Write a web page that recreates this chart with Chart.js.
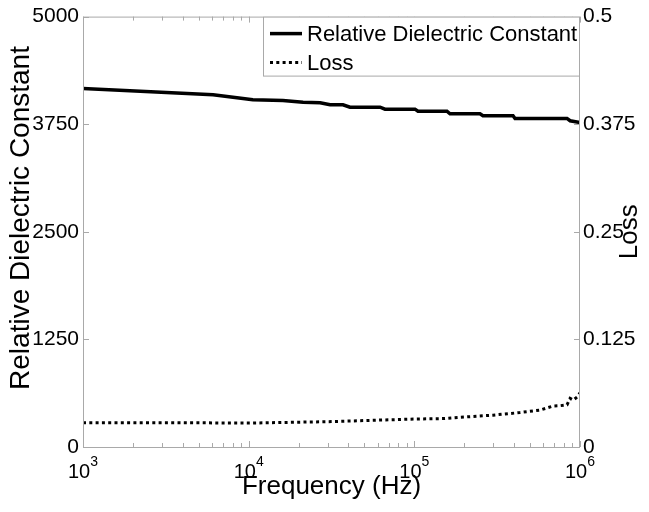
<!DOCTYPE html>
<html>
<head>
<meta charset="utf-8">
<script src="https://cdn.jsdelivr.net/npm/chart.js@4.4.1/dist/chart.umd.min.js"></script>
<style>
  html, body { margin: 0; padding: 0; background: #fff; }
</style>
</head>
<body>
<canvas id="chart" width="649" height="512"></canvas>
<script>
// relative dielectric constant (steps included)
const DIEL_FREQ = [1000, 6100, 10600, 16100, 21300, 27000, 31000, 37100, 40900, 62100, 66500,
  100900, 105200, 157400, 164100, 249000, 259500, 394300, 405400, 835000, 871000, 1000000];
const DIEL_VALUES = [4165, 4092, 4034, 4026, 4006, 3999, 3976, 3976, 3948, 3948, 3925,
  3925, 3901, 3901, 3871, 3871, 3848, 3848, 3817, 3817, 3790, 3770];

// loss (right axis)
const LOSS_FREQ = [1000, 3162, 10000, 31600, 100000, 150000, 189000, 298000, 434000, 574000,
  688000, 760000, 835000, 871000, 910000, 960000, 1000000];
const LOSS_VALUES = [0.0283, 0.0283, 0.0278, 0.0295, 0.0325, 0.0330, 0.0345, 0.0370, 0.0400, 0.0429,
  0.0476, 0.0480, 0.0490, 0.0565, 0.0545, 0.0580, 0.0630];

const X_EXPONENTS = [3, 4, 5, 6];
const LEFT_MAX = 5000, LEFT_STEP = 1250;
const RIGHT_MAX = 0.5, RIGHT_STEP = 0.125;

const FONT = '"Liberation Sans", Arial, Helvetica, sans-serif';
const GREY = '#a9a9a9';

function sideTitle(ctx, text, x, y, size) {
  ctx.save();
  ctx.translate(x, y);
  ctx.rotate(-Math.PI / 2);
  ctx.font = size + 'px ' + FONT;
  ctx.fillStyle = '#000';
  ctx.textAlign = 'center';
  ctx.textBaseline = 'middle';
  ctx.fillText(text, 0, 0);
  ctx.restore();
}

const frame = {
  id: 'frame',
  afterDraw(chart) {
    const ctx = chart.ctx;
    const { left, right, top, bottom } = chart.chartArea;
    const x = chart.scales.x;
    ctx.save();

    // axes box
    ctx.strokeStyle = GREY;
    ctx.lineWidth = 1;
    ctx.strokeRect(left + 0.5, top + 0.5, right - left - 1, bottom - top);

    // inward tick marks
    ctx.beginPath();
    const first = X_EXPONENTS[0], last = X_EXPONENTS[X_EXPONENTS.length - 1];
    for (let e = first; e <= last; e++) {
      for (let k = 1; k <= 9; k++) {
        if (e === last && k > 1) break;
        const px = Math.round(x.getPixelForValue(k * Math.pow(10, e))) + 0.5;
        const len = k === 1 ? 6 : 4;
        ctx.moveTo(px, bottom); ctx.lineTo(px, bottom - len);
        ctx.moveTo(px, top); ctx.lineTo(px, top + len);
      }
    }
    chart.scales.yDiel.ticks.forEach(t => {
      const py = Math.round(chart.scales.yDiel.getPixelForValue(t.value)) + 0.5;
      ctx.moveTo(left, py); ctx.lineTo(left + 6, py);
    });
    chart.scales.yLoss.ticks.forEach(t => {
      const py = Math.round(chart.scales.yLoss.getPixelForValue(t.value)) + 0.5;
      ctx.moveTo(right, py); ctx.lineTo(right - 6, py);
    });
    ctx.stroke();

    // x tick labels with superscript exponents
    ctx.fillStyle = '#000';
    ctx.textBaseline = 'alphabetic';
    X_EXPONENTS.forEach(e => {
      const px = x.getPixelForValue(Math.pow(10, e));
      ctx.font = '20px ' + FONT;
      const w1 = ctx.measureText('10').width;
      ctx.font = '14px ' + FONT;
      const w2 = ctx.measureText(String(e)).width;
      const x0 = px - (w1 + w2) / 2;
      ctx.font = '20px ' + FONT;
      ctx.textAlign = 'left';
      ctx.fillText('10', x0, 478);
      ctx.font = '14px ' + FONT;
      ctx.fillText(String(e), x0 + w1, 466);
    });

    // y axis titles, both reading bottom to top
    sideTitle(ctx, chart.scales.yDiel.options.title.text, 21, 218, 28);
    sideTitle(ctx, chart.scales.yLoss.options.title.text, 630, (top + bottom) / 2, 26);

    // legend box in the upper right corner
    const lx = 263, ly = top, lw = right - 263, lh = 59;
    ctx.fillStyle = '#fff';
    ctx.fillRect(lx, ly, lw, lh);
    ctx.strokeStyle = GREY;
    ctx.strokeRect(lx + 0.5, ly + 0.5, lw - 1, lh);
    ctx.font = '22px ' + FONT;
    ctx.textAlign = 'left';
    ctx.textBaseline = 'middle';
    chart.data.datasets.forEach((ds, i) => {
      const cy = ly + 17 + i * 29;
      ctx.strokeStyle = ds.borderColor;
      ctx.lineWidth = ds.borderWidth;
      ctx.setLineDash(ds.borderDash || []);
      ctx.beginPath();
      ctx.moveTo(270, cy); ctx.lineTo(302, cy);
      ctx.stroke();
      ctx.setLineDash([]);
      ctx.fillStyle = '#000';
      ctx.fillText(ds.label, 307, cy + 1);
    });
    ctx.restore();
  }
};

new Chart(document.getElementById('chart'), {
  type: 'line',
  data: {
    datasets: [
      {
        label: 'Relative Dielectric Constant',
        data: DIEL_FREQ.map((f, i) => ({ x: f, y: DIEL_VALUES[i] })),
        yAxisID: 'yDiel',
        borderColor: '#000',
        borderWidth: 3.5,
        pointRadius: 0,
        tension: 0,
      },
      {
        label: 'Loss',
        data: LOSS_FREQ.map((f, i) => ({ x: f, y: LOSS_VALUES[i] })),
        yAxisID: 'yLoss',
        borderColor: '#000',
        borderWidth: 3,
        borderDash: [3, 3.3],
        borderCapStyle: 'butt',
        pointRadius: 0,
        tension: 0,
      },
    ],
  },
  options: {
    responsive: false,
    animation: false,
    layout: { padding: { top: 16, left: 0, right: 0, bottom: 0 } },
    plugins: { legend: { display: false }, tooltip: { enabled: false } },
    scales: {
      x: {
        type: 'logarithmic',
        min: 1000,
        max: 1000000,
        grid: { display: false, drawTicks: false },
        border: { display: false },
        ticks: { display: false },
        title: {
          display: true,
          text: 'Frequency (Hz)',
          color: '#000',
          font: { family: FONT, size: 26, lineHeight: 1 },
          padding: { top: 0, bottom: 12 },
        },
        afterFit: s => { s.height = 65; },
      },
      yDiel: {
        position: 'left',
        min: 0,
        max: LEFT_MAX,
        grid: { display: false, drawTicks: false },
        border: { display: false },
        ticks: {
          stepSize: LEFT_STEP,
          padding: 4,
          color: '#000',
          font: { family: FONT, size: 21 },
          callback: v => String(v),
        },
        title: { display: false, text: 'Relative Dielectric Constant' },
        afterFit: s => { s.width = 83; },
      },
      yLoss: {
        position: 'right',
        min: 0,
        max: RIGHT_MAX,
        grid: { display: false, drawTicks: false },
        border: { display: false },
        ticks: {
          stepSize: RIGHT_STEP,
          padding: 3,
          color: '#000',
          font: { family: FONT, size: 21 },
          callback: v => String(v),
        },
        title: { display: false, text: 'Loss' },
        afterFit: s => { s.width = 69; },
      },
    },
  },
  plugins: [frame],
});
</script>
</body>
</html>
